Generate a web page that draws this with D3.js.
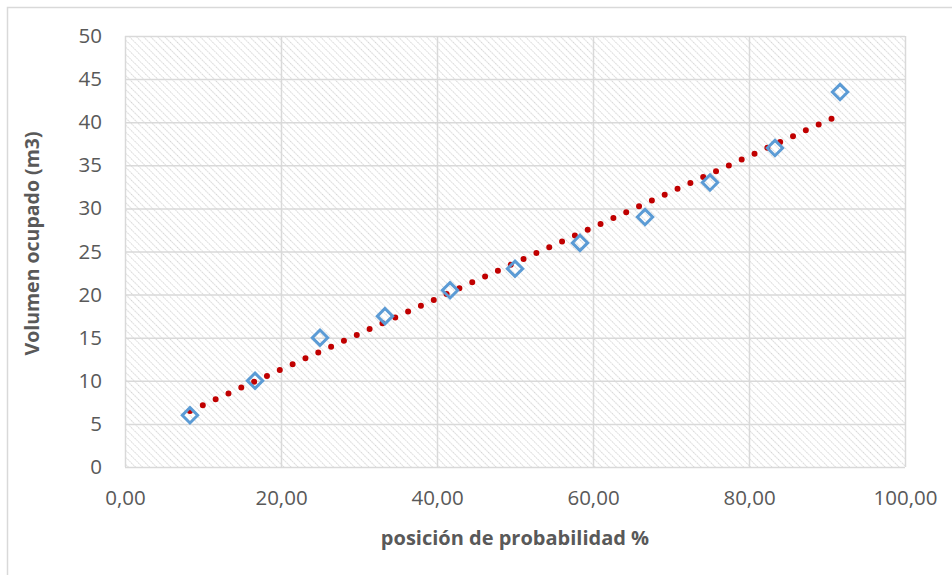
<!DOCTYPE html>
<html>
<head>
<meta charset="utf-8">
<script src="https://cdn.jsdelivr.net/npm/d3@7"></script>
<style>
  html, body { margin: 0; padding: 0; background: #fff; }
  svg { display: block; font-family: "Open Sans", sans-serif; }
</style>
</head>
<body>
<svg id="chart" width="952" height="575"></svg>
<script>
// Posición de probabilidad (%) y volumen ocupado (m3)
const probPosition = [8.33, 16.67, 25.00, 33.33, 41.67, 50.00, 58.33, 66.67, 75.00, 83.33, 91.67];
const volume       = [6, 10, 15, 17.5, 20.5, 23, 26, 29, 33, 37, 43.5];
const xTicks = [0, 20, 40, 60, 80, 100];
const yTicks = [0, 5, 10, 15, 20, 25, 30, 35, 40, 45, 50];
const xTitle = "posición de probabilidad %";
const yTitle = "Volumen ocupado (m3)";

const svg = d3.select("#chart");
const W = 952, H = 575;
const plot = { left: 125, right: 905, top: 36, bottom: 467 };
const font = "'Open Sans', sans-serif";

const x = d3.scaleLinear().domain([0, 100]).range([plot.left, plot.right]);
const y = d3.scaleLinear().domain([0, 50]).range([plot.bottom, plot.top]);

// chart frame (only its top/left edges fall inside the view)
svg.append("rect")
  .attr("x", 7.5).attr("y", 7.5).attr("width", W + 10).attr("height", H + 10)
  .attr("fill", "#fff").attr("stroke", "#d9d9d9").attr("stroke-width", 1.5);

// hatched plot background (downward diagonal)
const defs = svg.append("defs");
const pat = defs.append("pattern")
  .attr("id", "hatch").attr("patternUnits", "userSpaceOnUse")
  .attr("width", 5).attr("height", 5)
  .attr("patternTransform", "rotate(-45)");
pat.append("rect").attr("width", 5).attr("height", 5).attr("fill", "#fff");
pat.append("line")
  .attr("x1", 0).attr("y1", 0).attr("x2", 0).attr("y2", 5)
  .attr("stroke", "#d4d4d4").attr("stroke-width", 2)
  .attr("stroke-dasharray", "1.4 1");

svg.append("rect")
  .attr("x", plot.left).attr("y", plot.top)
  .attr("width", plot.right - plot.left).attr("height", plot.bottom - plot.top)
  .attr("fill", "url(#hatch)");

// gridlines
const gridColor = "#d9d9d9";
svg.append("g")
  .attr("transform", `translate(${plot.left},0)`)
  .call(d3.axisLeft(y).tickValues(yTicks).tickSize(-(plot.right - plot.left)).tickFormat(""))
  .call(g => g.select(".domain").remove())
  .call(g => g.selectAll("line").attr("stroke", gridColor).attr("stroke-width", 1.5));

svg.append("g")
  .attr("transform", `translate(0,${plot.bottom})`)
  .call(d3.axisBottom(x).tickValues(xTicks).tickSize(-(plot.bottom - plot.top)).tickFormat(""))
  .call(g => g.select(".domain").remove())
  .call(g => g.selectAll("line").attr("stroke", gridColor).attr("stroke-width", 1.5));

// tick labels
const labelColor = "#595959";
const fmtX = d => d3.format(".2f")(d).replace(".", ",");
svg.append("g")
  .attr("transform", `translate(${plot.left},0)`)
  .call(d3.axisLeft(y).tickValues(yTicks).tickSize(0).tickPadding(23))
  .call(g => g.select(".domain").remove())
  .call(g => g.selectAll("text").attr("fill", labelColor)
    .attr("font-size", 20.5).attr("font-family", font));

svg.append("g")
  .attr("transform", `translate(0,${plot.bottom})`)
  .call(d3.axisBottom(x).tickValues(xTicks).tickSize(0).tickPadding(23).tickFormat(fmtX))
  .call(g => g.select(".domain").remove())
  .call(g => g.selectAll("text").attr("fill", labelColor)
    .attr("font-size", 20.5).attr("font-family", font));

// axis titles
svg.append("text")
  .attr("x", 515).attr("y", 545)
  .attr("text-anchor", "middle").attr("fill", labelColor)
  .attr("font-size", 20).attr("font-weight", "bold").attr("font-family", font)
  .text(xTitle);

svg.append("text")
  .attr("transform", `translate(39,${(plot.top + plot.bottom) / 2 - 8}) rotate(-90)`)
  .attr("text-anchor", "middle").attr("fill", labelColor)
  .attr("font-size", 19.5).attr("font-weight", "bold").attr("font-family", font)
  .text(yTitle);

// linear trend line (least squares)
const n = probPosition.length;
const mx = d3.mean(probPosition), my = d3.mean(volume);
const slope = d3.sum(probPosition, (v, i) => (v - mx) * (volume[i] - my)) /
              d3.sum(probPosition, v => (v - mx) * (v - mx));
const intercept = my - slope * mx;
const x0 = probPosition[0], x1 = probPosition[n - 1];
svg.append("line")
  .attr("x1", x(x0)).attr("y1", y(intercept + slope * x0))
  .attr("x2", x(x1)).attr("y2", y(intercept + slope * x1))
  .attr("stroke", "#c00000").attr("stroke-width", 6)
  .attr("stroke-linecap", "round").attr("stroke-dasharray", "0 14.1");

// diamond markers
const diamond = d3.symbol().type(d3.symbolDiamond2).size(150);
svg.append("g")
  .selectAll("path")
  .data(probPosition.map((p, i) => [p, volume[i]]))
  .join("path")
  .attr("transform", d => `translate(${x(d[0])},${y(d[1])})`)
  .attr("d", diamond)
  .attr("fill", "#fff").attr("fill-opacity", 0)
  .attr("stroke", "#5b9bd5").attr("stroke-width", 3);
</script>
</body>
</html>
